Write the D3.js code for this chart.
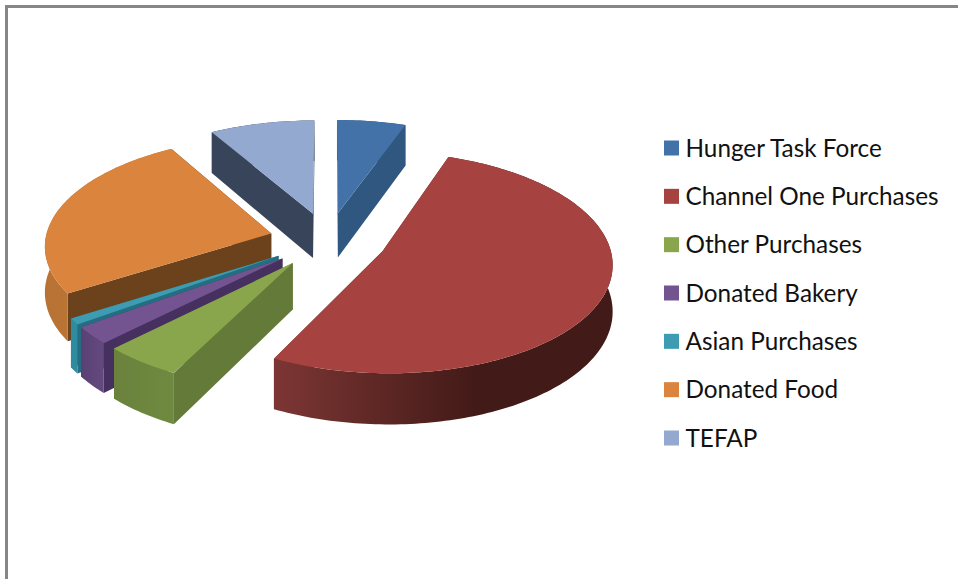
<!DOCTYPE html>
<html lang="en">

<head>
    <meta charset="UTF-8">
    <title>Food sources</title>
    <script src="https://d3js.org/d3.v7.min.js"></script>
    <style>
        html, body {
            margin: 0;
            padding: 0;
            background: white;
            overflow: hidden;
        }

        text {
            font-family: Lato, "Open Sans", sans-serif;
            fill: #111;
        }
    </style>
</head>

<body>
    <svg id="vis" width="958" height="579"></svg>
    <script>
        const categories = ["Hunger Task Force", "Channel One Purchases", "Other Purchases", "Donated Bakery", "Asian Purchases", "Donated Food", "TEFAP"];
        const values = [5.5, 52, 5, 2.6, 0.9, 25.6, 8.4];

        const topColors = ["#4372a8", "#a64341", "#8aa64d", "#735491", "#3d9bb2", "#db843d", "#93a9cf"];
        const wallColors = ["#30577f", "#6e2c2b", "#647a38", "#46305f", "#236e80", "#6b421c", "#37445a"];
        const outerFrom = ["#30577f", "#7c3634", "#6f8a40", "#63497f", "#2e8ba0", "#c07a38", "#37445a"];
        const outerTo = ["#30577f", "#421a17", "#6a823c", "#5a4174", "#2e8ba0", "#b87334", "#37445a"];
        // back to front
        const drawOrder = [6, 0, 5, 1, 4, 3, 2];

        const svg = d3.select("#vis");

        // frame
        svg.append("path")
            .attr("d", "M6.5,579V6.5H958")
            .attr("fill", "none")
            .attr("stroke", "#868686")
            .attr("stroke-width", 3);

        // pie geometry, perspective on the disc
        const cx = 328, cy = 240;
        const R = 226, H = 107.5, k = 0.1, depth = 45.5;
        const explode = 0.26;

        function project(u, v, z) {
            const w = 1 / (1 - k * v);
            return [cx + R * u * w, cy + (H * v + depth * z) * w];
        }

        const pie = d3.pie().sort(null).value(d => d)(values);
        const line = d3.line();
        const defs = svg.append("defs");

        function arcPoints(a0, a1, ox, oy, z) {
            const n = Math.max(2, Math.ceil((a1 - a0) / 0.02));
            return d3.range(n + 1).map(i => {
                const a = a0 + (a1 - a0) * i / n;
                return project(ox + Math.sin(a), oy - Math.cos(a), z);
            });
        }

        drawOrder.forEach(i => {
            const s = pie[i];
            const mid = (s.startAngle + s.endAngle) / 2;
            const ox = explode * Math.sin(mid);
            const oy = -explode * Math.cos(mid);
            const g = svg.append("g");
            const apexTop = project(ox, oy, 0);
            const apexBot = project(ox, oy, 1);

            // radial walls
            [s.startAngle, s.endAngle].forEach(a => {
                const rimTop = arcPoints(a, a, ox, oy, 0)[0];
                const rimBot = arcPoints(a, a, ox, oy, 1)[0];
                g.append("path")
                    .attr("d", line([apexTop, rimTop, rimBot, apexBot]) + "Z")
                    .attr("fill", wallColors[i]);
            });

            // outer wall, horizontal gradient across the slice
            const topArc = arcPoints(s.startAngle, s.endAngle, ox, oy, 0);
            const botArc = arcPoints(s.startAngle, s.endAngle, ox, oy, 1);
            const xs = d3.extent(topArc, d => d[0]);
            const grad = defs.append("linearGradient")
                .attr("id", "outer" + i)
                .attr("gradientUnits", "userSpaceOnUse")
                .attr("x1", xs[0]).attr("x2", i === 1 ? xs[0] + (xs[1] - xs[0]) * 0.6 : xs[1])
                .attr("y1", 0).attr("y2", 0);
            grad.append("stop").attr("offset", 0).attr("stop-color", i === 1 ? outerFrom[i] : outerTo[i]);
            grad.append("stop").attr("offset", 1).attr("stop-color", i === 1 ? outerTo[i] : outerFrom[i]);
            g.append("path")
                .attr("d", line(topArc.concat(botArc.slice().reverse())) + "Z")
                .attr("fill", "url(#outer" + i + ")");

            // top face
            g.append("path")
                .attr("d", line([apexTop].concat(topArc)) + "Z")
                .attr("fill", topColors[i]);
        });

        // legend
        const legendY = d3.scalePoint().domain(categories).range([148, 438]);
        const legend = svg.append("g").selectAll("g")
            .data(categories)
            .join("g")
            .attr("transform", d => `translate(664,${legendY(d)})`);
        legend.append("rect")
            .attr("y", -7.5)
            .attr("width", 15)
            .attr("height", 15)
            .attr("fill", (d, i) => topColors[i]);
        legend.append("text")
            .attr("x", 21.5)
            .attr("dy", "0.35em")
            .attr("font-size", 24.3)
            .text(d => d);
    </script>
</body>

</html>
